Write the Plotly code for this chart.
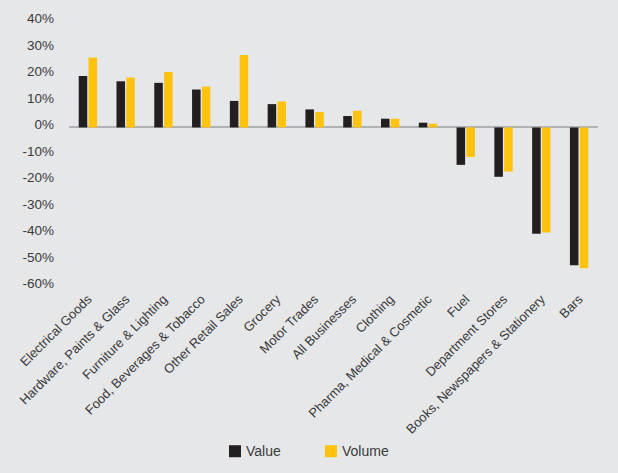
import plotly.graph_objects as go

categories = [
    "Electrical Goods", "Hardware, Paints & Glass", "Furniture & Lighting",
    "Food, Beverages & Tobacco", "Other Retail Sales", "Grocery", "Motor Trades",
    "All Businesses", "Clothing", "Pharma, Medical & Cosmetic", "Fuel",
    "Department Stores", "Books, Newspapers & Stationery", "Bars",
]
value_pct = [19.4, 17.4, 16.8, 14.3, 10.0, 8.8, 6.8, 4.3, 3.3, 1.8, -14.1, -18.6, -40.1, -51.9]
volume_pct = [26.3, 18.8, 20.9, 15.4, 27.3, 9.8, 5.8, 6.3, 3.3, 1.4, -11.1, -16.6, -39.6, -53.1]
y_ticks = [40, 30, 20, 10, 0, -10, -20, -30, -40, -50, -60]

series_names = ["Value", "Volume"]
series_colors = ["#231f20", "#ffc20e"]

BG = "#e6e7e9"
TEXT = "#3a3a3a"
FONT = "Liberation Sans, Arial, Helvetica, sans-serif"

W, H = 618, 473
M_L, M_R, M_T, M_B = 69, 20, 16.4, 185
PLOT_W = W - M_L - M_R
PLOT_H = H - M_T - M_B


def paper_x(px):
    return (px - M_L) / PLOT_W


def paper_y(py):
    return (H - M_B - py) / PLOT_H


fig = go.Figure()
for name, vals, col in zip(series_names, [value_pct, volume_pct], series_colors):
    fig.add_trace(go.Bar(name=name, x=categories, y=vals,
                         marker=dict(color=col, line=dict(width=0)),
                         showlegend=False))

# legend drawn as colour swatches with text beside them
swatch_left = [229, 325]
legend_mid_y = 451
for name, col, left in zip(series_names, series_colors, swatch_left):
    fig.add_shape(type="rect", xref="paper", yref="paper",
                  x0=paper_x(left), x1=paper_x(left + 12),
                  y0=paper_y(legend_mid_y + 6), y1=paper_y(legend_mid_y - 6),
                  fillcolor=col, line=dict(width=0))
    fig.add_annotation(text=name, xref="paper", yref="paper",
                       x=paper_x(left + 15), y=paper_y(legend_mid_y),
                       xanchor="left", yanchor="middle", showarrow=False,
                       font=dict(size=14, color=TEXT))

fig.update_layout(
    width=W, height=H,
    margin=dict(l=M_L, r=M_R, t=M_T, b=M_B),
    paper_bgcolor=BG, plot_bgcolor=BG,
    barmode="group", bargap=0.48, bargroupgap=0.13,
    font=dict(family=FONT, size=13.5, color=TEXT),
    showlegend=False,
)
fig.update_xaxes(
    showgrid=False, showline=False, zeroline=False, ticks="",
    tickangle=-45, tickfont=dict(size=13, color=TEXT), automargin=False,
)
fig.update_yaxes(
    range=[-60.5, 42], tickvals=y_ticks, ticktext=[f"{v}%" for v in y_ticks],
    showgrid=False, showline=False, ticks="",
    zeroline=True, zerolinecolor="#b1b2b4", zerolinewidth=1.5,
    ticklabelstandoff=14, ticklabelshift=-3, automargin=False,
    tickfont=dict(size=13.5, color=TEXT),
)

fig.write_html("out.html")
